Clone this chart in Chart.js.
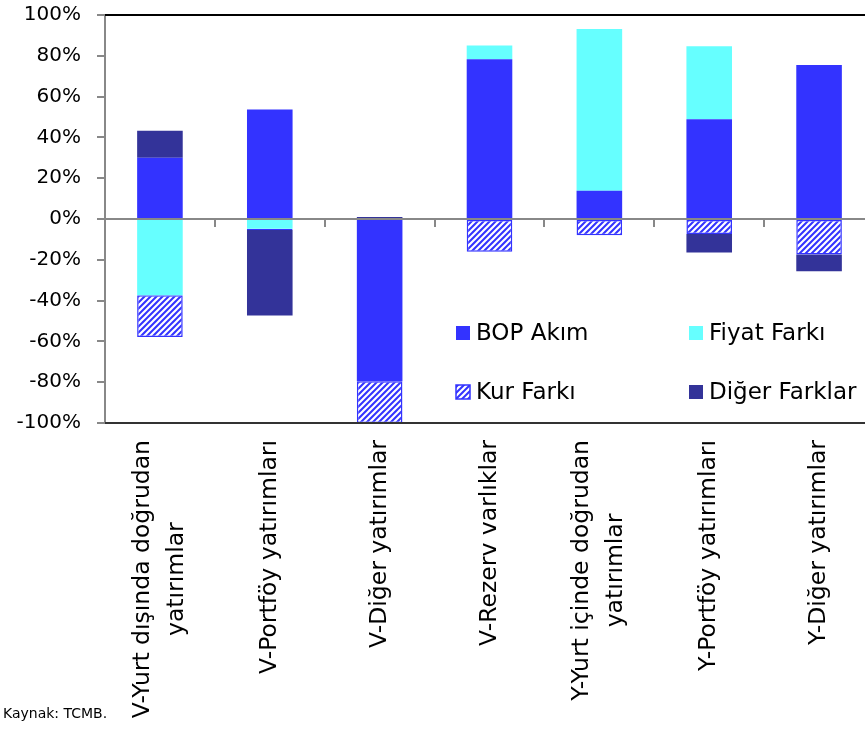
<!DOCTYPE html>
<html>
<head>
<meta charset="utf-8">
<script src="https://cdn.jsdelivr.net/npm/chart.js@4.4.1/dist/chart.umd.min.js"></script>
<style>
    html, body { margin: 0; padding: 0; background: #fff; overflow: hidden; }
    #wrap { position: relative; width: 874px; height: 733px; }
</style>
</head>
<body>
<div id="wrap"><canvas id="chart"></canvas></div>
<script>
// Kategoriler (çok satırlı etiketler)
const categories = [
    ['V-Yurt dışında doğrudan', 'yatırımlar'],
    ['V-Portföy yatırımları'],
    ['V-Diğer yatırımlar'],
    ['V-Rezerv varlıklar'],
    ['Y-Yurt içinde doğrudan', 'yatırımlar'],
    ['Y-Portföy yatırımları'],
    ['Y-Diğer yatırımlar']
];

// Seriler (%)
const bopAkim     = [30.0, 53.7, -79.5, 78.3, 13.8, 48.9, 75.5];
const fiyatFarki  = [-37.4, -4.8, null, 6.8, 79.3, 35.8, null];
const kurFarki    = [-20.4, -0.6, -20.5, -16.1, -8.0, -7.4, -17.4];
const digerFarklar = [13.2, -41.9, 1.0, null, null, -9.0, -8.2];

const yMin = -100, yMax = 100, yStep = 20;
const seriesNames = ['BOP Akım', 'Fiyat Farkı', 'Kur Farkı', 'Diğer Farklar'];

const FONT = '"DejaVu Sans", sans-serif';
const BLUE = '#3333ff', CYAN = '#66ffff', NAVY = '#333399';

// Kur farkı için çizgili desen
function makeHatch() {
    let c = document.createElement('canvas');
    let s = 6;
    c.width = s; c.height = s;
    let g = c.getContext('2d');
    g.fillStyle = BLUE;
    g.fillRect(0, 0, s, s);
    g.strokeStyle = '#ffffff';
    g.lineWidth = 2.2;
    g.beginPath();
    g.moveTo(-s, s); g.lineTo(s, -s);
    g.moveTo(0, s); g.lineTo(s, 0);
    g.moveTo(0, 2 * s); g.lineTo(2 * s, 0);
    g.stroke();
    return g.createPattern(c, 'repeat');
}
const hatch = makeHatch();

// Kategori etiketleri: dikey, blok ortalı
const catLabels = {
    id: 'catLabels',
    afterDraw(chart) {
        let ctx = chart.ctx;
        let xs = chart.scales.x;
        let top = chart.chartArea.bottom + 17;
        let lineH = 34;
        ctx.save();
        ctx.font = '23.5px ' + FONT;
        ctx.fillStyle = '#000';
        ctx.textAlign = 'center';
        ctx.textBaseline = 'middle';
        categories.forEach((lines, i) => {
            let cx = xs.getPixelForValue(i);
            let w = Math.max(...lines.map(l => ctx.measureText(l).width));
            ctx.save();
            ctx.translate(cx, top + w / 2);
            ctx.rotate(-Math.PI / 2);
            lines.forEach((l, j) => {
                ctx.fillText(l, 0, (j - (lines.length - 1) / 2) * lineH);
            });
            ctx.restore();
        });

        // Kaynak
        ctx.font = '14px ' + FONT;
        ctx.textAlign = 'left';
        ctx.textBaseline = 'alphabetic';
        ctx.fillText('Kaynak: TCMB.', 3, 718);

        // Üst ve alt çerçeve çizgileri
        let a = chart.chartArea;
        ctx.lineWidth = 2;
        ctx.strokeStyle = '#000';
        ctx.beginPath();
        ctx.moveTo(a.left, a.top); ctx.lineTo(a.right, a.top);
        ctx.stroke();
        ctx.strokeStyle = '#333';
        ctx.beginPath();
        ctx.moveTo(a.left, a.bottom); ctx.lineTo(a.right, a.bottom);
        ctx.stroke();
        ctx.restore();
    }
};

// Grafik içindeki 2x2 gösterge
const insideLegend = {
    id: 'insideLegend',
    afterDraw(chart) {
        let ctx = chart.ctx;
        let cols = [456, 689];
        let rows = [333, 392];
        let box = 14;
        ctx.save();
        ctx.font = '23px ' + FONT;
        ctx.textBaseline = 'middle';
        ctx.textAlign = 'left';
        chart.data.datasets.forEach((ds, i) => {
            let x = cols[i % 2];
            let y = rows[Math.floor(i / 2)];
            ctx.fillStyle = ds.backgroundColor;
            ctx.fillRect(x, y - box / 2, box, box);
            if (ds.label === 'Kur Farkı') {
                ctx.strokeStyle = BLUE;
                ctx.lineWidth = 1.5;
                ctx.strokeRect(x, y - box / 2, box, box);
            }
            ctx.fillStyle = '#000';
            ctx.fillText(ds.label, x + box + 6, y + 1);
        });
        ctx.restore();
    }
};

let ctx = document.getElementById('chart').getContext('2d');
new Chart(ctx, {
    type: 'bar',
    data: {
        labels: categories.map(c => c.join(' ')),
        datasets: [
            { label: seriesNames[0], data: bopAkim, backgroundColor: BLUE, borderWidth: 0 },
            { label: seriesNames[1], data: fiyatFarki, backgroundColor: CYAN, borderWidth: 0 },
            { label: seriesNames[2], data: kurFarki, backgroundColor: hatch, borderColor: BLUE, borderWidth: 1.5, borderSkipped: false },
            { label: seriesNames[3], data: digerFarklar, backgroundColor: NAVY, borderWidth: 0 }
        ]
    },
    options: {
        responsive: true,
        maintainAspectRatio: false,
        animation: false,
        barPercentage: 0.415,
        categoryPercentage: 1.0,
        layout: { padding: { top: 15, bottom: 310, left: 0, right: 0 } },
        plugins: {
            legend: { display: false },
            tooltip: { enabled: false }
        },
        scales: {
            x: {
                stacked: true,
                position: { y: 0 },
                offset: true,
                z: 1,
                ticks: { display: false },
                grid: {
                    display: true,
                    drawOnChartArea: false,
                    drawTicks: true,
                    tickLength: 7,
                    color: '#888',
                    lineWidth: 2,
                    offset: true
                },
                border: { color: '#888', width: 2 }
            },
            y: {
                stacked: true,
                min: yMin,
                max: yMax,
                afterFit: s => {
                    s.width = 105;
                    s.paddingTop = 12;
                    s.paddingBottom = 12;
                },
                ticks: {
                    stepSize: yStep,
                    padding: 16,
                    color: '#000',
                    font: { family: FONT, size: 20 },
                    callback: v => v + '%'
                },
                grid: {
                    display: true,
                    drawOnChartArea: false,
                    drawTicks: true,
                    tickLength: 8,
                    color: '#888',
                    lineWidth: 2
                },
                border: { color: '#888', width: 2 }
            }
        }
    },
    plugins: [catLabels, insideLegend]
});
</script>
</body>
</html>
